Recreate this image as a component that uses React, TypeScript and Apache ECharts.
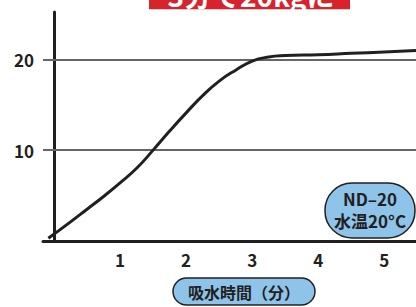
import React, { useEffect, useRef } from "react";
import * as echarts from "echarts";

const xTickLabels = [1, 2, 3, 4, 5];
const yTickLabels = [10, 20];
const gridValues = [10, 20];
const curveX = [-0.086, 0.25, 0.5, 0.75, 1.0, 1.25, 1.5, 1.75, 2.0, 2.25, 2.5, 2.75, 3.0, 3.25, 3.5, 4.0, 4.5, 5.0, 5.48];
const curveY = [0.3, 2.1, 3.5, 4.9, 6.4, 8.0, 10.0, 12.1, 14.1, 16.0, 17.6, 18.8, 19.8, 20.25, 20.4, 20.5, 20.65, 20.8, 20.95];
const legendLines = ["ND\u201320", "水温20°C"];
const xAxisTitle = "吸水時間（分）";
const bannerText = "3分で20kgに";

const FONT = "'Noto Sans CJK JP', 'Noto Sans', sans-serif";
const INK = "#231f20";
const BLUE = "#8ec3ea";

export default function App() {
  const ref = useRef<HTMLDivElement>(null);
  useEffect(() => {
    if (!ref.current) return;
    const chart = echarts.init(ref.current, null, { renderer: "svg" });
    chart.setOption({
      animation: false,
      grid: { left: 43, right: 0, top: 12, bottom: 66, containLabel: false },
      xAxis: {
        type: "value",
        min: -0.167,
        max: 5.48,
        axisLine: { show: true, lineStyle: { color: INK, width: 3 } },
        axisTick: { show: false },
        splitLine: { show: false },
        axisLabel: {
          customValues: xTickLabels,
          margin: 10,
          color: INK,
          fontSize: 17,
          fontWeight: "bold",
          fontFamily: FONT,
        },
      },
      yAxis: {
        type: "value",
        min: 0,
        max: 25.2,
        axisLine: { show: true, lineStyle: { color: INK, width: 3 } },
        axisTick: { show: false },
        splitLine: { show: false },
        axisLabel: {
          customValues: yTickLabels,
          margin: 9,
          color: INK,
          fontSize: 17,
          fontWeight: "bold",
          fontFamily: FONT,
        },
      },
      series: [
        {
          type: "line",
          data: curveX.map((x, i) => [x, curveY[i]]),
          smooth: 0.5,
          showSymbol: false,
          symbol: "none",
          lineStyle: { color: INK, width: 3 },
          z: 3,
          markLine: {
            silent: true,
            symbol: "none",
            label: { show: false },
            lineStyle: { color: "#666666", width: 2, type: "solid" },
            data: gridValues.map((v) => ({ yAxis: v })),
            z: 1,
          },
        },
      ],
      graphic: [
        {
          type: "rect",
          shape: { x: 149, y: -6, width: 201, height: 15.3 },
          style: { fill: "#d7232b" },
        },
        {
          type: "text",
          x: 251,
          y: -5,
          style: {
            text: bannerText,
            fill: "#ffffff",
            font: `bold 28px ${FONT}`,
            align: "center",
            verticalAlign: "middle",
          },
        },
        {
          type: "rect",
          shape: { x: 173, y: 278, width: 142, height: 27, r: 13.5 },
          style: { fill: BLUE, stroke: INK, lineWidth: 1.5 },
        },
        {
          type: "text",
          x: 244,
          y: 292,
          style: {
            text: xAxisTitle,
            fill: INK,
            font: `bold 16px ${FONT}`,
            align: "center",
            verticalAlign: "middle",
          },
        },
        {
          type: "rect",
          shape: { x: 325, y: 183, width: 90, height: 55, r: 27 },
          style: { fill: BLUE, stroke: INK, lineWidth: 1.5 },
        },
        {
          type: "text",
          x: 370,
          y: 209,
          style: {
            text: legendLines.join("\n"),
            fill: INK,
            font: `bold 17px ${FONT}`,
            lineHeight: 22,
            align: "center",
            verticalAlign: "middle",
          },
        },
      ],
    });
    return () => chart.dispose();
  }, []);
  return (
    <div
      ref={ref}
      style={{ width: 416, height: 307, position: "absolute", left: 0, top: 0, background: "#ffffff" }}
    />
  );
}
